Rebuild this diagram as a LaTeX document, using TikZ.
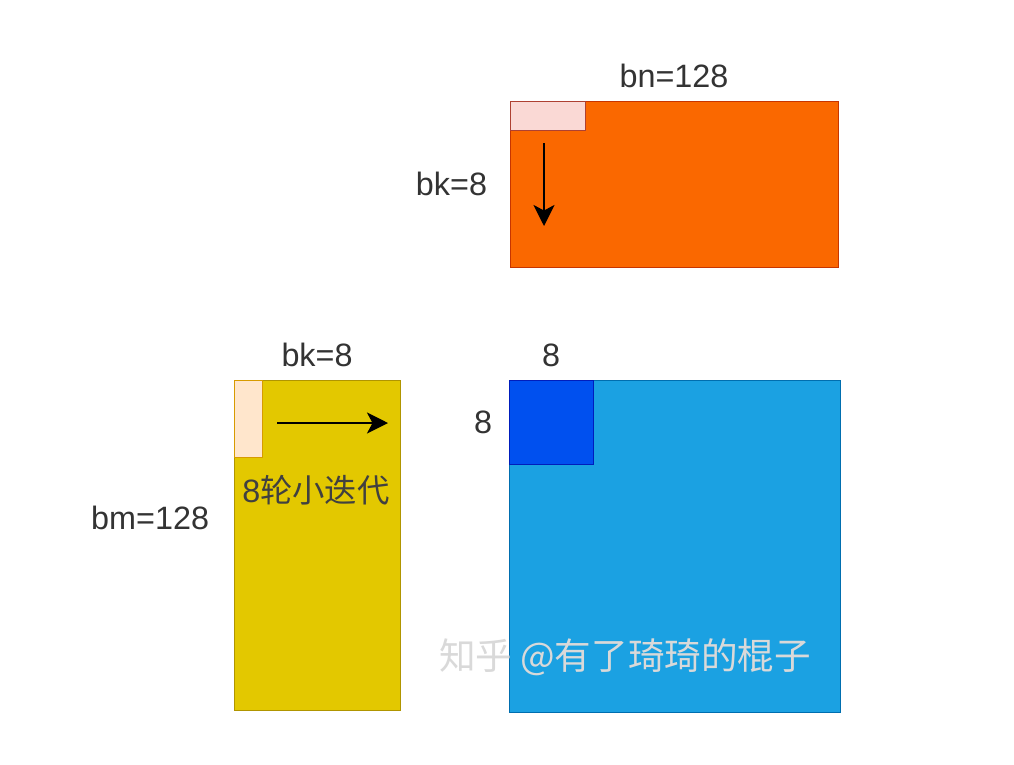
\documentclass[tikz,border=0pt]{standalone}
\usepackage{fontspec}
\setmainfont{Liberation Sans}
\newfontfamily\cjk{Noto Sans CJK SC}
\usepackage{xcolor}
\usetikzlibrary{arrows.meta, positioning}
\definecolor{orangefill}{HTML}{FA6800}
\definecolor{orangeline}{HTML}{C73500}
\definecolor{yellowfill}{HTML}{E3C800}
\definecolor{yellowline}{HTML}{B09500}
\definecolor{bluefill}{HTML}{1BA1E2}
\definecolor{blueline}{HTML}{006EAF}
\definecolor{darkfill}{HTML}{0050EF}
\definecolor{darkline}{HTML}{001DBC}
\definecolor{pinkfill}{HTML}{FAD9D5}
\definecolor{pinkline}{HTML}{AE4132}
\definecolor{peachfill}{HTML}{FFE6CC}
\definecolor{peachline}{HTML}{D79B00}
\tikzstyle{tile} = [rectangle, draw, anchor=north west, inner sep=0pt, outer sep=0pt, line width=0.7pt]
\tikzstyle{lbl} = [font=\fontsize{23}{27}\selectfont, text=black!80]
\tikzstyle{arrow} = [line width=1.2pt,-{Stealth[length=15pt,width=15pt,inset=4pt]}]

\begin{document}
\begin{tikzpicture}[x=0.025cm, y=0.025cm]
\useasboundingbox[fill=white] (0,0) rectangle (1014,-764);

% Matrix B tile
\node[tile, fill=orangefill, draw=orangeline, minimum width=8.2cm, minimum height=4.15cm] (bmat) at (510,-101) {};
\node[tile, fill=pinkfill, draw=pinkline, minimum width=1.875cm, minimum height=0.725cm] (bslice) at (510,-101) {};
\node[lbl, above=0.2cm of bmat] (bn) {bn=128};
\node[lbl, left=0.45cm of bmat.west] (bkb) {bk=8};

% Matrix A tile
\node[tile, fill=yellowfill, draw=yellowline, minimum width=4.15cm, minimum height=8.25cm] (amat) at (234,-380) {};
\node[tile, fill=peachfill, draw=peachline, minimum width=0.7cm, minimum height=1.925cm] (aslice) at (234,-380) {};
\node[lbl, above=0.2cm of amat] (bka) {bk=8};
\node[lbl, left=0.5cm of amat.west, yshift=0.68cm] (bm) {bm=128};
\node[lbl, text=black!75] (iter) at (316,-490) {8{\cjk 轮小迭代}};

% Matrix C tile
\node[tile, fill=bluefill, draw=blueline, minimum width=8.275cm, minimum height=8.3cm] (cmat) at (509,-380) {};
\node[tile, fill=darkfill, draw=darkline, minimum width=2.1cm, minimum height=2.1cm] (csub) at (509,-380) {};
\node[lbl, above=0.2cm of csub.north] (ctop) {8};
\node[lbl, left=0.3cm of csub.west] (cleft) {8};

% Watermark
\node[font=\cjk\fontsize{26}{30}\selectfont, text=white!85!black] (mark) at (625,-657) {知乎 @有了琦琦的棍子};

% Arrows
\coordinate (bstart) at (544,-143);
\coordinate (bend) at (544,-226);
\coordinate (astart) at (277,-423);
\coordinate (aend) at (388,-423);
\draw[arrow] (bstart) -- (bend);
\draw[arrow] (astart) -- (aend);

\end{tikzpicture}
\end{document}
